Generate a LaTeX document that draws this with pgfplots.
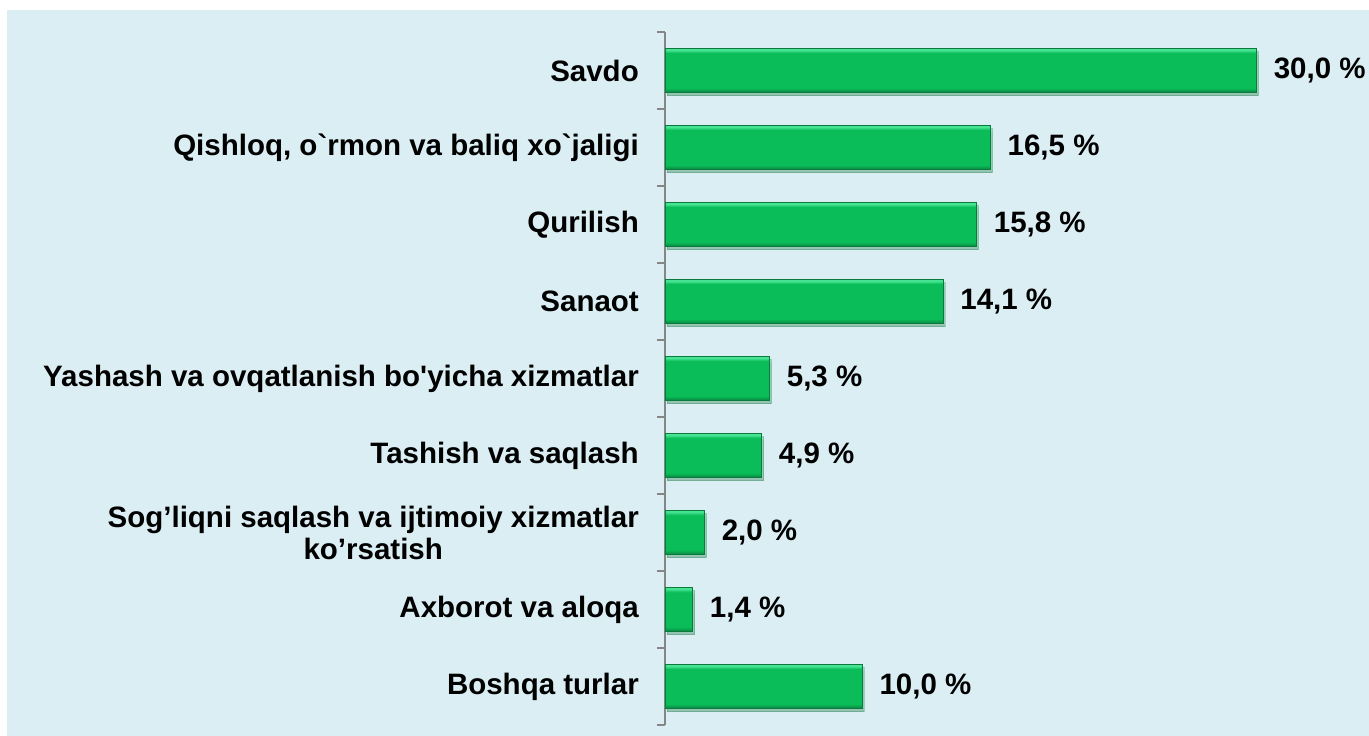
\documentclass[border=0pt]{standalone}
\usepackage{fontspec}
\setmainfont[Ligatures=TeXOff]{Liberation Sans}
\usepackage{pgfplots}
\pgfplotsset{compat=1.18}
\usetikzlibrary{shadows}

\definecolor{bgblue}{HTML}{DAEEF3}
\definecolor{barmid}{HTML}{0ABD58}
\definecolor{bartop}{HTML}{45E392}
\definecolor{barbot}{HTML}{0A8E45}
\definecolor{baredge}{HTML}{0B7A3C}
\definecolor{axisgray}{HTML}{868686}

% bevelled look of the bars: dark lower edge, light upper edge
\pgfdeclareverticalshading{barshade}{100bp}{%
  color(0bp)=(barbot); color(26bp)=(barbot); color(30bp)=(barmid);
  color(70bp)=(barmid); color(73bp)=(bartop); color(100bp)=(bartop)}

\pgfplotsset{greenbar/.style={draw=baredge, line width=0.8pt, shade, shading=barshade,
  drop shadow={opacity=0.25, shadow xshift=2pt, shadow yshift=-3pt}}}

\begin{document}
\begin{tikzpicture}
\useasboundingbox (-665pt,-11pt) rectangle (704pt,725pt);
\fill[white] (-665pt,-11pt) rectangle (704pt,725pt);
\fill[bgblue] (-658pt,-11pt) rectangle (704pt,715pt);
\begin{axis}[
  at={(0,0)}, anchor=south west,
  scale only axis, width=690pt, height=693pt,
  xmin=0, xmax=35, ymin=-0.5, ymax=8.5, y dir=reverse,
  axis x line=none, axis y line*=left,
  y axis line style={axisgray, line width=1.3pt, -},
  ytick={-0.5,0.5,...,8.5},
  yticklabels={Savdo,
    {Qishloq, o`rmon va baliq xo`jaligi},
    Qurilish, Sanaot,
    {Yashash va ovqatlanish bo'yicha xizmatlar},
    {Tashish va saqlash},
    {Sog’liqni saqlash va ijtimoiy xizmatlar\\ko’rsatish},
    {Axborot va aloqa},
    {Boshqa turlar}, {}},
  tick align=outside, major tick length=8pt,
  y tick style={axisgray, line width=1.3pt},
  yticklabel style={font=\fontsize{29.5}{32}\selectfont\bfseries,
    align=center, anchor=east, inner sep=0pt, yshift=-38.5pt, xshift=-18pt},
  clip=false,
  xbar, bar width=44pt, bar shift=0pt,
  point meta=x,
  nodes near coords={\pgfmathprintnumber[fixed,fixed zerofill,precision=1,use comma,assume math mode=true]{\pgfplotspointmeta}\ \%},
  nodes near coords style={font=\fontsize{29.5}{32}\selectfont\bfseries,
    anchor=west, inner sep=0pt, xshift=17pt},
]
\addplot[greenbar] coordinates {(30.0,0)};
\addplot[greenbar] coordinates {(16.5,1)};
\addplot[greenbar] coordinates {(15.8,2)};
\addplot[greenbar] coordinates {(14.1,3)};
\addplot[greenbar] coordinates {(5.3,4)};
\addplot[greenbar] coordinates {(4.9,5)};
\addplot[greenbar] coordinates {(2.0,6)};
\addplot[greenbar] coordinates {(1.4,7)};
\addplot[greenbar] coordinates {(10.0,8)};
\end{axis}
\end{tikzpicture}
\end{document}
